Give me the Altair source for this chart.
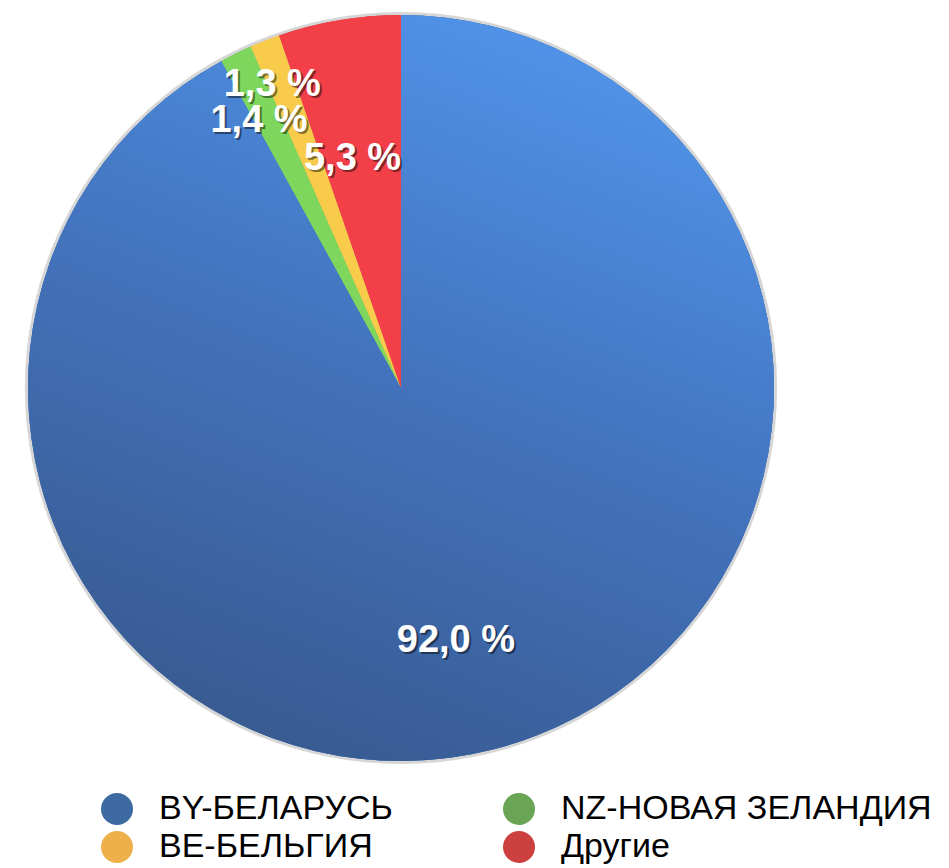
import altair as alt
import pandas as pd

# ---- data ----
categories = ["BY-БЕЛАРУСЬ", "NZ-НОВАЯ ЗЕЛАНДИЯ", "BE-БЕЛЬГИЯ", "Другие"]
values = [92.0, 1.4, 1.3, 5.3]
labels = [f"{v:.1f}".replace(".", ",") + " %" for v in values]

# legend lists entries column by column
legend_order = ["BY-БЕЛАРУСЬ", "BE-БЕЛЬГИЯ", "NZ-НОВАЯ ЗЕЛАНДИЯ", "Другие"]

# ---- styles ----
pie_colors = ["#4579c8", "#7ed65d", "#f8cc4a", "#f23f48"]
legend_color_map = {"BY-БЕЛАРУСЬ": "#3d6aa0", "NZ-НОВАЯ ЗЕЛАНДИЯ": "#6aa556",
                    "BE-БЕЛЬГИЯ": "#eeb04a", "Другие": "#cc4040"}
label_radius = {"BY-БЕЛАРУСЬ": 261, "NZ-НОВАЯ ЗЕЛАНДИЯ": 298, "BE-БЕЛЬГИЯ": 325, "Другие": 232}
CX, CY, R = 393, 380, 373

df = pd.DataFrame({"cat": categories, "value": values, "label": labels,
                   "order": list(range(len(categories)))})
df["lr"] = df["cat"].map(label_radius)

theta_scale = alt.Scale(domain=[0, 100])

base = alt.Chart(df).transform_window(
    end="sum(value)", sort=[alt.SortField("order")], frame=[None, 0]
).transform_calculate(
    start="datum.end - datum.value"
).transform_calculate(
    mid="(datum.start + datum.end) / 2"
)

cx = alt.value(CX)
cy = alt.value(CY)

shadow = base.transform_filter("datum.order == 0").mark_arc(
    theta=0, theta2=6.2832, radius=R + 3, fill="#8a8a8a", opacity=0.35
).encode(x=cx, y=cy)

legend_layer = base.mark_arc(radius=R).encode(
    x=cx, y=cy,
    theta=alt.Theta("start:Q", scale=theta_scale),
    theta2="end:Q",
    color=alt.Color(
        "cat:N",
        scale=alt.Scale(domain=legend_order,
                        range=[legend_color_map[c] for c in legend_order]),
        sort=legend_order,
        legend=alt.Legend(
            title=None, orient="none", legendX=92, legendY=784, columns=2,
            symbolType="circle", symbolSize=1024, symbolStrokeWidth=0,
            symbolOpacity=1, labelFontSize=34, labelFont="Liberation Sans",
            labelColor="black", labelOffset=25, columnPadding=109,
            rowPadding=4, labelLimit=0, padding=0,
        ),
    ),
)

fill_layer = base.mark_arc(radius=R).encode(
    x=cx, y=cy,
    theta=alt.Theta("start:Q", scale=theta_scale),
    theta2="end:Q",
    fill=alt.Fill("cat:N", scale=alt.Scale(domain=categories, range=pie_colors), legend=None),
)

gradient_layer = base.mark_arc(
    radius=R,
    fill=alt.Gradient(
        gradient="linear",
        stops=[alt.GradientStop(color="#5196ec", offset=0),
               alt.GradientStop(color="#4373bd", offset=0.5),
               alt.GradientStop(color="#385a90", offset=1)],
        x1=0.75, y1=0, x2=0.35, y2=1,
    ),
).encode(
    x=cx, y=cy,
    theta=alt.Theta("start:Q", scale=theta_scale),
    theta2="end:Q",
    fillOpacity=alt.condition("datum.order == 0", alt.value(1), alt.value(0)),
)

text_shadow = base.mark_text(
    font="Liberation Sans", fontWeight="bold", fontSize=38, color="#000000",
    opacity=0.45, dx=-8, dy=2,
).encode(
    x=cx, y=cy,
    theta=alt.Theta("mid:Q", scale=theta_scale, stack=None),
    radius=alt.Radius("lr:Q", scale=None),
    text="label:N",
)

text_layer = base.mark_text(
    font="Liberation Sans", fontWeight="bold", fontSize=38, color="#ffffff",
    dx=-10,
).encode(
    x=cx, y=cy,
    theta=alt.Theta("mid:Q", scale=theta_scale, stack=None),
    radius=alt.Radius("lr:Q", scale=None),
    text="label:N",
)

chart = alt.layer(
    shadow, legend_layer, fill_layer, gradient_layer, text_shadow, text_layer
).properties(
    width=933, height=860, autosize="none", padding=0, background="white"
).configure_view(stroke=None)

chart.save("out.html", embed_options={"renderer": "svg", "actions": False})
